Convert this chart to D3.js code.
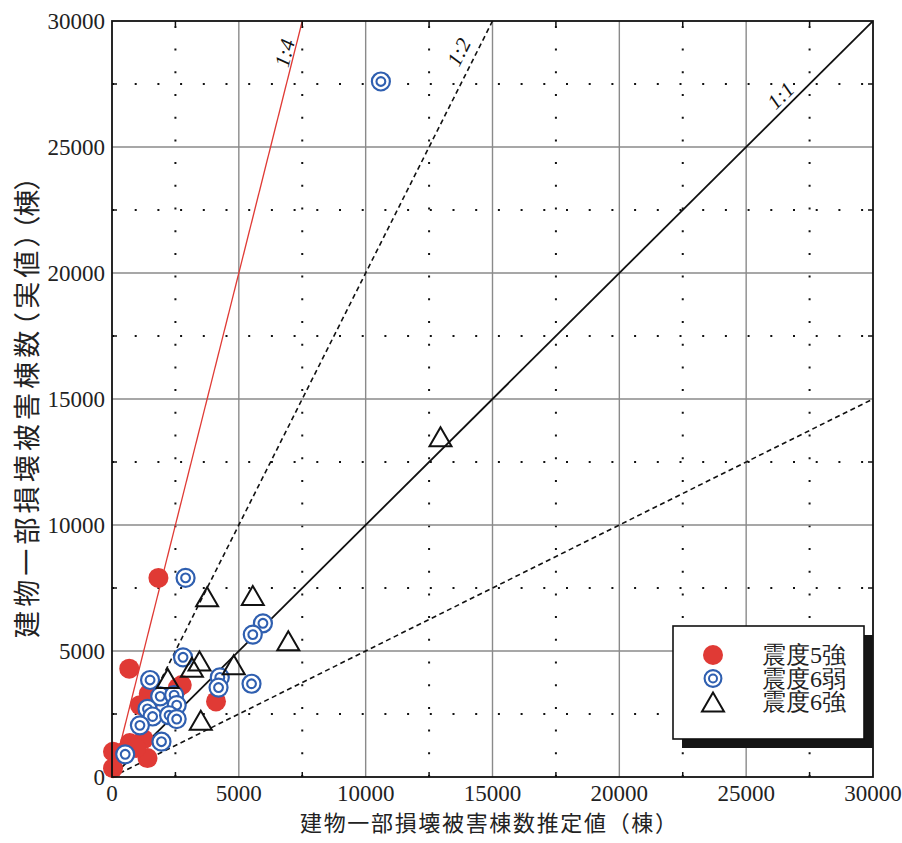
<!DOCTYPE html>
<html>
<head>
<meta charset="utf-8">
<script src="https://cdn.jsdelivr.net/npm/d3@7"></script>
<style>
  html, body { margin: 0; padding: 0; background: #fff; }
  svg { display: block; }
</style>
</head>
<body>
<svg id="chart" width="902" height="843"></svg>
<script>
// Axis ticks (棟)
const majorTicks = [0, 5000, 10000, 15000, 20000, 25000, 30000];
const minorTicks = [2500, 7500, 12500, 17500, 22500, 27500];

// 震度5強: [推定値, 実値]
const shindo5Strong = [
  [1830, 7900], [680, 4300], [4100, 3000], [2600, 3550], [2750, 3650],
  [1400, 2800], [1450, 3300], [1100, 2850], [1250, 1500], [700, 1350],
  [320, 950], [1400, 750], [40, 1000], [40, 350], [950, 1150]
];

// 震度6弱: [推定値, 実値]
const shindo6Weak = [
  [10600, 27600], [2900, 7900], [5950, 6100], [5550, 5650], [2800, 4750],
  [1500, 3850], [4250, 3950], [4200, 3550], [5500, 3700], [1900, 3200],
  [2450, 3250], [2550, 2850], [1400, 2700], [1600, 2400], [2250, 2450],
  [2550, 2300], [1100, 2050], [1950, 1400], [520, 900]
];

// 震度6強: [推定値, 実値]
const shindo6Strong = [
  [12950, 13500], [3750, 7150], [5550, 7200], [6950, 5400], [3450, 4600],
  [3150, 4350], [4800, 4450], [2200, 3900], [3500, 2250]
];

// Reference lines y = k·x
const ratioSlopes = [4, 2, 1, 0.5];
const ratioLabels = ["1:4", "1:2", "1:1", ""];

const legendLabels = ["震度5強", "震度6弱", "震度6強"];

const SERIF = "Liberation Serif, DejaVu Serif, Times New Roman, serif";
const CJK = "Noto Sans CJK JP, Noto Sans CJK SC, sans-serif";

const svg = d3.select("#chart");
const plot = { left: 112, right: 873, top: 21, bottom: 777 };

const x = d3.scaleLinear().domain([0, 30000]).range([plot.left, plot.right]);
const y = d3.scaleLinear().domain([0, 30000]).range([plot.bottom, plot.top]);

const RED = "#e03a35";
const BLUE = "#2f5fb0";

// clip for data-area content
svg.append("defs").append("clipPath").attr("id", "plotClip")
  .append("rect")
  .attr("x", plot.left).attr("y", plot.top)
  .attr("width", plot.right - plot.left).attr("height", plot.bottom - plot.top);

// Minor dotted grid
const grid = svg.append("g");
grid.selectAll("line.minx").data(minorTicks).join("line")
  .attr("x1", d => x(d)).attr("x2", d => x(d))
  .attr("y1", plot.bottom).attr("y2", plot.top)
  .attr("stroke", "#111").attr("stroke-width", 2)
  .attr("stroke-dasharray", "2 20.7");
grid.selectAll("line.miny").data(minorTicks).join("line")
  .attr("y1", d => y(d)).attr("y2", d => y(d))
  .attr("x1", plot.left).attr("x2", plot.right)
  .attr("stroke", "#111").attr("stroke-width", 2)
  .attr("stroke-dasharray", "2 20.7");

// Major solid grid
grid.selectAll("line.majx").data(majorTicks.slice(1, -1)).join("line")
  .attr("x1", d => x(d)).attr("x2", d => x(d))
  .attr("y1", plot.bottom).attr("y2", plot.top)
  .attr("stroke", "#8a8a8a").attr("stroke-width", 1.4);
grid.selectAll("line.majy").data(majorTicks.slice(1, -1)).join("line")
  .attr("y1", d => y(d)).attr("y2", d => y(d))
  .attr("x1", plot.left).attr("x2", plot.right)
  .attr("stroke", "#8a8a8a").attr("stroke-width", 1.4);

// Reference ratio lines
const lines = svg.append("g").attr("clip-path", "url(#plotClip)");
const lineStyle = [
  { stroke: RED, width: 1.3, dash: null },
  { stroke: "#111", width: 1.6, dash: "5 3.5" },
  { stroke: "#111", width: 1.8, dash: null },
  { stroke: "#111", width: 1.6, dash: "5 3.5" }
];
ratioSlopes.forEach((k, i) => {
  const xEnd = Math.min(30000, 30000 / k);
  lines.append("line")
    .attr("x1", x(0)).attr("y1", y(0))
    .attr("x2", x(xEnd)).attr("y2", y(k * xEnd))
    .attr("stroke", lineStyle[i].stroke)
    .attr("stroke-width", lineStyle[i].width)
    .attr("stroke-dasharray", lineStyle[i].dash);
});

// Ratio labels placed along each line, offset to its upper-left side
const labelPlacement = [
  { along: 7160, offset: 9 },
  { along: 14240, offset: 16 },
  { along: 26700, offset: 12 }
];
labelPlacement.forEach((p, i) => {
  const k = ratioSlopes[i];
  const px = x(p.along), py = y(k * p.along);
  const dx = x(1000) - x(0), dy = y(k * 1000) - y(0);
  const ang = Math.atan2(dy, dx);
  const len = Math.hypot(dx, dy);
  const nx = dy / len, ny = -dx / len; // normal pointing up-left
  const cx = px + nx * p.offset, cy = py + ny * p.offset;
  svg.append("text")
    .attr("x", 0).attr("y", 0)
    .attr("transform", `translate(${cx},${cy}) rotate(${ang * 180 / Math.PI})`)
    .attr("text-anchor", "middle")
    .attr("dominant-baseline", "central")
    .style("font-family", SERIF)
    .attr("font-size", 21)
    .attr("font-style", "italic")
    .attr("fill", "#111")
    .text(ratioLabels[i]);
});

// Inward ticks at minor positions
const ticks = svg.append("g").attr("stroke", "#111").attr("stroke-width", 1.5);
minorTicks.forEach(t => {
  ticks.append("line").attr("x1", plot.left).attr("x2", plot.left + 5).attr("y1", y(t)).attr("y2", y(t));
  ticks.append("line").attr("x1", plot.right).attr("x2", plot.right - 5).attr("y1", y(t)).attr("y2", y(t));
  ticks.append("line").attr("y1", plot.bottom).attr("y2", plot.bottom - 5).attr("x1", x(t)).attr("x2", x(t));
  ticks.append("line").attr("y1", plot.top).attr("y2", plot.top + 5).attr("x1", x(t)).attr("x2", x(t));
});

// Data marks
const marks = svg.append("g");
marks.selectAll("circle.s5").data(shindo5Strong).join("circle")
  .attr("cx", d => x(d[0])).attr("cy", d => y(d[1]))
  .attr("r", 10).attr("fill", RED);

const weak = marks.selectAll("g.s6w").data(shindo6Weak).join("g")
  .attr("transform", d => `translate(${x(d[0])},${y(d[1])})`);
weak.append("circle").attr("r", 9).attr("fill", "#fff")
  .attr("stroke", BLUE).attr("stroke-width", 2.2);
weak.append("circle").attr("r", 4.4).attr("fill", "none")
  .attr("stroke", BLUE).attr("stroke-width", 2.1);

const triPath = "M0,-9.6 L11,9.4 L-11,9.4 Z";
marks.selectAll("path.s6s").data(shindo6Strong).join("path")
  .attr("transform", d => `translate(${x(d[0])},${y(d[1])})`)
  .attr("d", triPath)
  .attr("fill", "none").attr("stroke", "#111").attr("stroke-width", 2)
  .attr("stroke-linejoin", "miter");

// Frame
svg.append("rect")
  .attr("x", plot.left).attr("y", plot.top)
  .attr("width", plot.right - plot.left).attr("height", plot.bottom - plot.top)
  .attr("fill", "none").attr("stroke", "#111").attr("stroke-width", 1.8);

// Tick labels
svg.append("g").selectAll("text").data(majorTicks).join("text")
  .attr("x", plot.left - 7).attr("y", d => y(d))
  .attr("text-anchor", "end").attr("dominant-baseline", "central")
  .style("font-family", SERIF)
  .attr("font-size", 23).attr("fill", "#222")
  .text(d => d);
svg.append("g").selectAll("text").data(majorTicks).join("text")
  .attr("x", d => x(d)).attr("y", plot.bottom + 24)
  .attr("text-anchor", "middle")
  .style("font-family", SERIF)
  .attr("font-size", 23).attr("fill", "#222")
  .text(d => d);

// Axis titles
svg.append("text")
  .attr("x", 300).attr("y", 831)
  .style("font-family", CJK)
  .attr("font-size", 22).attr("fill", "#222")
  .attr("textLength", 377).attr("lengthAdjust", "spacing")
  .text("建物一部損壊被害棟数推定値（棟）");

svg.append("text")
  .attr("transform", "translate(37,638) rotate(-90)")
  .attr("x", 0).attr("y", 0)
  .style("font-family", CJK)
  .attr("font-size", 27).attr("fill", "#222")
  .style("font-feature-settings", "'palt'")
  .attr("textLength", 405).attr("lengthAdjust", "spacing")
  .text("建物一部損壊被害棟数（実値）");
svg.append("text")
  .attr("transform", "translate(37,203) rotate(-90)")
  .attr("x", 0).attr("y", 0)
  .attr("text-anchor", "middle")
  .style("font-family", CJK)
  .attr("font-size", 27).attr("fill", "#222")
  .style("font-feature-settings", "'palt'")
  .text("（棟）");

// Legend with drop shadow
const lg = svg.append("g");
lg.append("rect").attr("x", 682).attr("y", 635).attr("width", 191).attr("height", 113)
  .attr("fill", "#151515");
lg.append("rect").attr("x", 673).attr("y", 626).attr("width", 191).attr("height", 113)
  .attr("fill", "#fff").attr("stroke", "#111").attr("stroke-width", 1.6);
const rowY = [655, 678.5, 702];
lg.append("circle").attr("cx", 713).attr("cy", rowY[0]).attr("r", 10).attr("fill", RED);
lg.append("circle").attr("cx", 713).attr("cy", rowY[1]).attr("r", 8.4).attr("fill", "#fff")
  .attr("stroke", BLUE).attr("stroke-width", 2.1);
lg.append("circle").attr("cx", 713).attr("cy", rowY[1]).attr("r", 4).attr("fill", "none")
  .attr("stroke", BLUE).attr("stroke-width", 2);
lg.append("path").attr("transform", `translate(713,${rowY[2]})`).attr("d", triPath)
  .attr("fill", "none").attr("stroke", "#111").attr("stroke-width", 2);
lg.selectAll("text").data(legendLabels).join("text")
  .attr("x", 762).attr("y", (d, i) => rowY[i])
  .attr("dominant-baseline", "central")
  .style("font-family", SERIF)
  .attr("font-size", 24).attr("fill", "#222")
  .text(d => d);
</script>
</body>
</html>
